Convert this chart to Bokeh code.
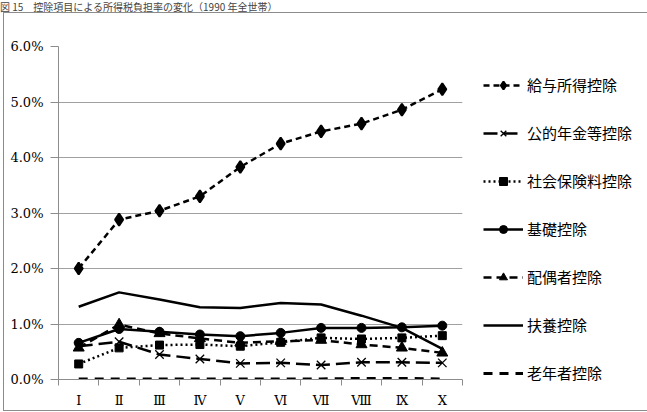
from bokeh.plotting import figure
from bokeh.layouts import column
from bokeh.models import (FixedTicker, PrintfTickFormatter, Legend, LegendItem,
                          Range1d, Div)
from bokeh.embed import file_html
from bokeh.resources import INLINE

title_text = "図 15　控除項目による所得税負担率の変化（1990 年全世帯）"
x_pos = [1, 2, 3, 4, 5, 6, 7, 8, 9, 10]
x_labels = ["Ⅰ", "Ⅱ", "Ⅲ", "Ⅳ", "Ⅴ", "Ⅵ", "Ⅶ", "Ⅷ", "Ⅸ", "Ⅹ"]
y_ticks = [0, 1, 2, 3, 4, 5, 6]

kyuyo = [2.00, 2.88, 3.04, 3.30, 3.83, 4.25, 4.47, 4.61, 4.86, 5.23]
nenkin = [0.60, 0.68, 0.45, 0.37, 0.29, 0.30, 0.26, 0.31, 0.31, 0.30]
shakai = [0.28, 0.57, 0.62, 0.63, 0.60, 0.67, 0.75, 0.73, 0.75, 0.79]
kiso = [0.66, 0.91, 0.86, 0.81, 0.78, 0.84, 0.93, 0.93, 0.94, 0.97]
haigu = [0.57, 0.99, 0.83, 0.74, 0.66, 0.69, 0.71, 0.63, 0.57, 0.48]
fuyo = [1.31, 1.57, 1.44, 1.30, 1.29, 1.38, 1.35, 1.15, 0.93, 0.55]
ronen = [0.01, 0.01, 0.01, 0.01, 0.01, 0.01, 0.01, 0.02, 0.02, 0.01]

names = ["給与所得控除", "公的年金等控除", "社会保険料控除", "基礎控除",
         "配偶者控除", "扶養控除", "老年者控除"]

# ---- title strip ----
title_div = Div(text=title_text, width=647, height=13,
                styles={"font-family": "Noto Sans CJK JP", "font-size": "10px",
                        "line-height": "13px", "color": "#444444",
                        "white-space": "nowrap",
                        "margin": "0", "padding": "0"})

# ---- main chart ----
p = figure(frame_width=404, frame_height=333, output_backend="svg",
           toolbar_location=None, x_range=Range1d(0.5, 10.5),
           y_range=Range1d(0, 6),
           min_border_left=54, min_border_right=179, min_border_top=33,
           min_border_bottom=30, margin=(0, 6, 3, 4),
           styles={"box-shadow": "0 0 0 1px #8c8c8c"})
p.outline_line_color = None
p.background_fill_color = "white"
p.border_fill_color = "white"

p.yaxis.ticker = FixedTicker(ticks=y_ticks)
p.yaxis.formatter = PrintfTickFormatter(format="%.1f%%")
p.yaxis.axis_line_color = "#8c8c8c"
p.yaxis.major_tick_line_color = "#8c8c8c"
p.yaxis.major_tick_out = 8
p.yaxis.major_tick_in = 0
p.yaxis.minor_tick_line_color = None
p.yaxis.major_label_standoff = 7
p.yaxis.major_label_text_font = "DejaVu Serif"
p.yaxis.major_label_text_font_size = "13px"
p.yaxis.major_label_text_color = "black"

p.xaxis.ticker = FixedTicker(ticks=x_pos, minor_ticks=[i + 0.5 for i in range(0, 11)])
p.xaxis.major_label_overrides = {x: l for x, l in zip(x_pos, x_labels)}
p.xaxis.axis_line_color = "#8c8c8c"
p.xaxis.major_tick_out = 0
p.xaxis.major_tick_in = 0
p.xaxis.minor_tick_line_color = "#8c8c8c"
p.xaxis.minor_tick_out = 6
p.xaxis.minor_tick_in = 0
p.xaxis.major_label_standoff = 7
p.xaxis.major_label_text_font = "DejaVu Serif"
p.xaxis.major_label_text_font_size = "13px"
p.xaxis.major_label_text_color = "black"

p.xgrid.grid_line_color = None
p.ygrid.ticker = FixedTicker(ticks=y_ticks)
p.ygrid.grid_line_color = "#a0a0a0"
p.ygrid.grid_line_width = 1

items = []
lw = 2.5

r1 = p.line(x_pos, kyuyo, line_color="black", line_width=lw, line_dash="6 4")
m1 = p.scatter(x_pos, kyuyo, marker="diamond", size=12, line_width=2,
               fill_color="black", line_color="black")
items.append(LegendItem(label=names[0], renderers=[r1, m1]))

r2 = p.line(x_pos, nenkin, line_color="black", line_width=lw, line_dash="14 6")
m2 = p.scatter(x_pos, nenkin, marker="x", size=12, line_color="black", line_width=1.3)
items.append(LegendItem(label=names[1], renderers=[r2, m2]))

r3 = p.line(x_pos, shakai, line_color="black", line_width=lw, line_dash="2 3")
m3 = p.scatter(x_pos, shakai, marker="square", size=8, fill_color="black",
               line_color="black")
items.append(LegendItem(label=names[2], renderers=[r3, m3]))

r4 = p.line(x_pos, kiso, line_color="black", line_width=lw)
m4 = p.scatter(x_pos, kiso, marker="circle", size=9, fill_color="black",
               line_color="black")
items.append(LegendItem(label=names[3], renderers=[r4, m4]))

r5 = p.line(x_pos, haigu, line_color="black", line_width=lw, line_dash="8 5")
m5 = p.scatter(x_pos, haigu, marker="triangle", size=11, fill_color="black",
               line_color="black")
items.append(LegendItem(label=names[4], renderers=[r5, m5]))

r6 = p.line(x_pos, fuyo, line_color="black", line_width=lw)
items.append(LegendItem(label=names[5], renderers=[r6]))

r7 = p.line(x_pos, ronen, line_color="black", line_width=3, line_dash="9 7")
items.append(LegendItem(label=names[6], renderers=[r7]))

legend = Legend(items=items, location=(21, -4), orientation="vertical",
                glyph_width=40, glyph_height=20, label_height=20,
                spacing=27, padding=0, margin=0, label_standoff=4,
                label_text_font="Noto Sans CJK JP", label_text_font_size="15px",
                label_text_color="black",
                border_line_color=None, background_fill_alpha=0)
p.add_layout(legend, "right")

layout = column(title_div, p, spacing=0)
open("out.html", "w").write(file_html(layout, INLINE))
